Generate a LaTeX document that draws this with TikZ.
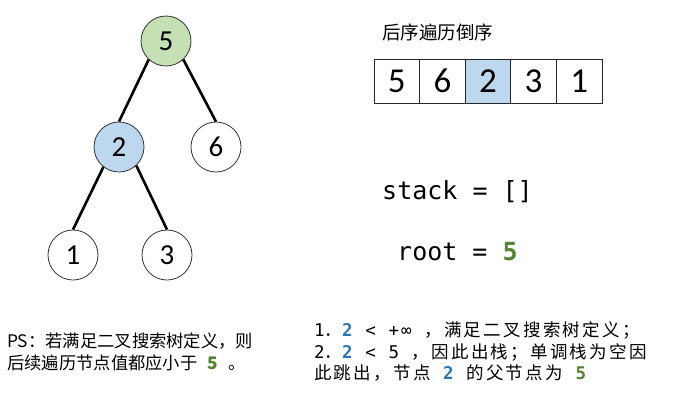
\documentclass[tikz,border=0pt]{standalone}
\usepackage{fontspec}
\setmainfont{Noto Sans CJK SC}
\newfontfamily\digitfont{Carlito}
\newfontfamily\monofont{DejaVu Sans Mono}
\newfontfamily\cjkwide[LetterSpace=13]{Noto Sans CJK SC}
\newfontfamily\monowide[LetterSpace=12]{DejaVu Sans Mono}
\usetikzlibrary{positioning}

\definecolor{ngreen}{RGB}{197,224,180}
\definecolor{nblue}{RGB}{189,215,238}
\definecolor{tgreen}{RGB}{84,130,53}
\definecolor{tblue}{RGB}{46,117,182}
\tikzset{pix/.style={x=1pt,y=-1pt}}
\tikzset{tnode/.style={circle,draw=black!80,line width=0.8pt,minimum size=50pt,inner sep=0pt,
           font=\digitfont\fontsize{29}{29}\selectfont},
         tedge/.style={line width=2.6pt},
         cell/.style={draw=black!85,line width=0.9pt,minimum width=45.6pt,minimum height=44pt,
           inner sep=0pt,font=\digitfont\fontsize{35}{35}\selectfont},
         txt/.style={anchor=west,inner sep=0pt}}

\begin{document}
\begin{tikzpicture}[pix]
    \useasboundingbox (0,0) rectangle (684,400);
    % tree
    \node[tnode,fill=ngreen] (n5) at (166,41)  {5};
    \node[tnode,fill=nblue]  (n2) at (119,147) {2};
    \node[tnode]             (n6) at (216,147) {6};
    \node[tnode]             (n1) at (73,255)  {1};
    \node[tnode]             (n3) at (167,255) {3};
    \draw[tedge] (n5.-133) -- (n2.north);
    \draw[tedge] (n5.-47)  -- (n6.north);
    \draw[tedge] (n2.-128) -- (n1.north);
    \draw[tedge] (n2.-47)  -- (n3.north);
    % reversed postorder
    \node[txt,font=\fontsize{18.5}{18.5}\selectfont] (title) at (382,32) {后序遍历倒序};
    \foreach \v/\c [count=\i] in {5/white,6/white,2/nblue,3/white,1/white}
      \node[cell,fill=\c] (c\i) at ({374+45.6*(\i-0.5)},81) {\v};
    % state
    \node[txt,font=\monofont\fontsize{25}{25}\selectfont] (stack) at (382,192) {stack = []};
    \node[txt,font=\monofont\fontsize{25}{25}\selectfont] (root) at (397,252)
      {root = \textcolor{tgreen}{\bfseries 5}};
    % notes
    \node[txt,font=\fontsize{17.3}{17.3}\selectfont] (ps1) at (7,341) {PS：若满足二叉搜索树定义，则};
    \node[txt,font=\fontsize{17.3}{17.3}\selectfont] (ps2) at (7,363)
      {后续遍历节点值都应小于\hspace{0.6em}\textcolor{tgreen}{\bfseries 5}\hspace{0.6em}。};
    \node[txt,font=\cjkwide\fontsize{17.5}{17.5}\selectfont] (st1) at (314,330)
      {{\monowide 1}．{\monowide\textcolor{tblue}{\bfseries 2} < +∞ }，满足二叉搜索树定义；};
    \node[txt,font=\cjkwide\fontsize{17.5}{17.5}\selectfont] (st2) at (314,352)
      {{\monowide 2}．{\monowide\textcolor{tblue}{\bfseries 2} < 5 }，因此出栈；单调栈为空因};
    \node[txt,font=\cjkwide\fontsize{17.5}{17.5}\selectfont] (st3) at (314,373)
      {此跳出，节点{\monowide\ \textcolor{tblue}{\bfseries 2} }的父节点为{\monowide\ \textcolor{tgreen}{\bfseries 5}}};
\end{tikzpicture}
\end{document}
